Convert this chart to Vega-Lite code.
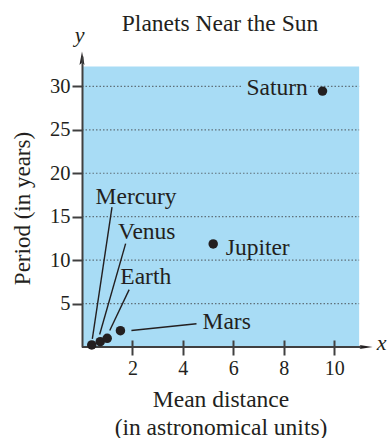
{
  "$schema": "https://vega.github.io/schema/vega-lite/v6.json",
  "width": 290,
  "height": 291,
  "autosize": {"type": "none"},
  "padding": {"left": 82, "top": 56, "right": 17, "bottom": 91},
  "background": "white",
  "title": {
    "text": "Planets Near the Sun",
    "font": "Liberation Serif",
    "fontSize": 23.5,
    "fontWeight": "normal",
    "color": "#231f20",
    "anchor": "middle",
    "dx": -7,
    "baseline": "alphabetic",
    "offset": -30.5
  },
  "config": {"view": {"stroke": null}, "font": "Liberation Serif"},
  "datasets": {
    "bg": [{"x0": 0, "x1": 10.99, "y0": 0, "y1": 32.3}],
    "grid": [
      {"gy": 5, "ga": 0, "gb": 10.99},
      {"gy": 10, "ga": 0, "gb": 10.99},
      {"gy": 15, "ga": 0, "gb": 10.99},
      {"gy": 20, "ga": 0, "gb": 10.99},
      {"gy": 25, "ga": 0, "gb": 10.99},
      {"gy": 30, "ga": 0, "gb": 6.38},
      {"gy": 30, "ga": 9.04, "gb": 10.99}
    ],
    "xaxis": [{"xa": 0, "xb": 11.2, "ya": 0}],
    "arrows": [
      {"ax": 0, "ay": 33.2, "dir": "up"},
      {"ax": 11.25, "ay": 0, "dir": "right"}
    ],
    "planets": [
      {"planet": "Mercury", "dist": 0.387, "period": 0.241, "lx": 0.54, "ly": 16.5, "sx": 0.41, "sy": 0.94, "ex": 1.19, "ey": 16.1},
      {"planet": "Venus", "dist": 0.723, "period": 0.615, "lx": 1.43, "ly": 12.47, "sx": 0.70, "sy": 1.44, "ex": 1.73, "ey": 11.9},
      {"planet": "Earth", "dist": 1.0, "period": 1.0, "lx": 1.52, "ly": 7.28, "sx": 1.10, "sy": 1.9, "ex": 1.87, "ey": 6.6},
      {"planet": "Mars", "dist": 1.524, "period": 1.881, "lx": 4.78, "ly": 2.02, "sx": 1.96, "sy": 1.9, "ex": 4.54, "ey": 2.67},
      {"planet": "Jupiter", "dist": 5.203, "period": 11.862, "lx": 5.70, "ly": 10.54},
      {"planet": "Saturn", "dist": 9.537, "period": 29.457, "lx": 6.52, "ly": 28.97}
    ],
    "letters": [
      {"t": "x", "tx": 11.88, "ty": -0.32},
      {"t": "y", "tx": -0.09, "ty": 35.1}
    ]
  },
  "layer": [
    {
      "data": {"name": "bg"},
      "mark": {"type": "rect", "color": "#a8dcf5"},
      "encoding": {
        "x": {
          "field": "x0", "type": "quantitative",
          "scale": {"domain": [0, 11.5], "nice": false, "zero": false},
          "axis": {
            "values": [2, 4, 6, 8, 10],
            "zindex": 1,
            "domain": false,
            "grid": false,
            "offset": -7,
            "tickSize": 15,
            "tickWidth": 2,
            "tickColor": "#404040",
            "labelFont": "Liberation Serif",
            "labelFontSize": 20,
            "labelColor": "#231f20",
            "labelPadding": 3,
            "title": ["Mean distance", "(in astronomical units)"],
            "titleFont": "Liberation Serif",
            "titleFontSize": 23.5,
            "titleFontWeight": "normal",
            "titleColor": "#231f20",
            "titleBaseline": "alphabetic",
            "titleLineHeight": 28,
            "titleX": 138.5,
            "titleY": 66
          }
        },
        "x2": {"field": "x1"},
        "y": {
          "field": "y0", "type": "quantitative",
          "scale": {"domain": [0, 33.5], "nice": false, "zero": false},
          "axis": {
            "values": [5, 10, 15, 20, 25, 30],
            "zindex": 1,
            "domain": true,
            "domainColor": "#404040",
            "domainWidth": 2,
            "grid": false,
            "tickSize": 10,
            "tickWidth": 2,
            "tickColor": "#404040",
            "labelFont": "Liberation Serif",
            "labelFontSize": 20.5,
            "labelColor": "#231f20",
            "labelPadding": 2,
            "title": "Period (in years)",
            "titleFont": "Liberation Serif",
            "titleFontSize": 23,
            "titleFontWeight": "normal",
            "titleColor": "#231f20",
            "titleAngle": -90,
            "titleAlign": "center",
            "titleBaseline": "middle",
            "titleX": -60,
            "titleY": 152
          }
        },
        "y2": {"field": "y1"}
      }
    },
    {
      "data": {"name": "grid"},
      "mark": {"type": "rule", "color": "#5f707a", "strokeWidth": 1.2, "strokeDash": [1.5, 2]},
      "encoding": {
        "y": {"field": "gy", "type": "quantitative"},
        "x": {"field": "ga", "type": "quantitative"},
        "x2": {"field": "gb"}
      }
    },
    {
      "data": {"name": "xaxis"},
      "mark": {"type": "rule", "color": "#404040", "strokeWidth": 2},
      "encoding": {
        "y": {"field": "ya", "type": "quantitative"},
        "x": {"field": "xa", "type": "quantitative"},
        "x2": {"field": "xb"}
      }
    },
    {
      "data": {"name": "arrows"},
      "mark": {"type": "point", "filled": true, "opacity": 1, "color": "#231f20", "size": 196},
      "encoding": {
        "x": {"field": "ax", "type": "quantitative"},
        "y": {"field": "ay", "type": "quantitative"},
        "shape": {
          "field": "dir", "type": "nominal", "legend": null,
          "scale": {
            "domain": ["up", "right"],
            "range": ["M0,-1L0.36,0.9L0,0.55L-0.36,0.9Z", "M1,0L-0.9,0.3L-0.55,0L-0.9,-0.3Z"]
          }
        }
      }
    },
    {
      "data": {"name": "planets"},
      "transform": [{"filter": "isValid(datum.sx)"}],
      "mark": {"type": "rule", "color": "#231f20", "strokeWidth": 1.4},
      "encoding": {
        "x": {"field": "sx", "type": "quantitative"},
        "y": {"field": "sy", "type": "quantitative"},
        "x2": {"field": "ex"},
        "y2": {"field": "ey"}
      }
    },
    {
      "data": {"name": "planets"},
      "mark": {"type": "point", "filled": true, "opacity": 1, "color": "#231f20", "size": 90},
      "encoding": {
        "x": {"field": "dist", "type": "quantitative"},
        "y": {"field": "period", "type": "quantitative"}
      }
    },
    {
      "data": {"name": "planets"},
      "mark": {"type": "text", "align": "left", "baseline": "alphabetic", "font": "Liberation Serif", "fontSize": 23.5, "color": "#231f20"},
      "encoding": {
        "x": {"field": "lx", "type": "quantitative"},
        "y": {"field": "ly", "type": "quantitative"},
        "text": {"field": "planet"}
      }
    },
    {
      "data": {"name": "letters"},
      "mark": {"type": "text", "align": "center", "baseline": "alphabetic", "font": "Liberation Serif", "fontStyle": "italic", "fontSize": 22, "color": "#231f20"},
      "encoding": {
        "x": {"field": "tx", "type": "quantitative"},
        "y": {"field": "ty", "type": "quantitative"},
        "text": {"field": "t"}
      }
    }
  ]
}
